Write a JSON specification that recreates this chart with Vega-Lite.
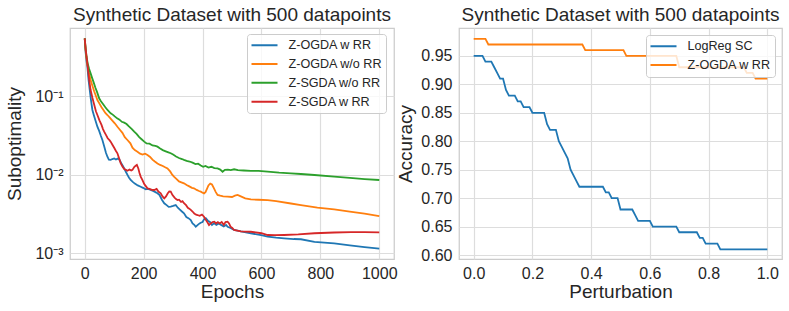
{
  "$schema": "https://vega.github.io/schema/vega-lite/v6.json",
  "background": "white",
  "padding": {"left": 5, "top": 5, "right": 8, "bottom": 5},
  "autosize": {"type": "pad"},
  "bounds": "flush",
  "spacing": 65,
  "config": {
    "font": "Liberation Sans",
    "view": {"stroke": "#cccccc", "strokeWidth": 1.25},
    "axis": {"domain": false, "ticks": false, "grid": true, "gridColor": "#dddddd", "gridWidth": 1.2,
      "labelFontSize": 16, "labelColor": "#262626", "labelFont": "Liberation Sans",
      "titleFontSize": 19, "titleFontWeight": "normal", "titleColor": "#262626", "titleFont": "Liberation Sans"},
    "title": {"fontSize": 19, "fontWeight": "normal", "color": "#262626", "font": "Liberation Sans", "offset": 3},
    "legend": {"labelFontSize": 12.6, "labelColor": "#262626", "labelFont": "Liberation Sans"}
  },
  "datasets": {
    "conv": [
      {"m":"Z-OGDA w RR","e":0,"v":0.541},{"m":"Z-OGDA w RR","e":3,"v":0.36},{"m":"Z-OGDA w RR","e":6,"v":0.28},{"m":"Z-OGDA w RR","e":9,"v":0.236},{"m":"Z-OGDA w RR","e":13,"v":0.16},{"m":"Z-OGDA w RR","e":17,"v":0.12},{"m":"Z-OGDA w RR","e":21,"v":0.09},{"m":"Z-OGDA w RR","e":26,"v":0.0664},{"m":"Z-OGDA w RR","e":31,"v":0.057},{"m":"Z-OGDA w RR","e":37,"v":0.048},{"m":"Z-OGDA w RR","e":43,"v":0.0407},{"m":"Z-OGDA w RR","e":49,"v":0.036},{"m":"Z-OGDA w RR","e":55,"v":0.031},{"m":"Z-OGDA w RR","e":60,"v":0.0276},{"m":"Z-OGDA w RR","e":66,"v":0.023},{"m":"Z-OGDA w RR","e":72,"v":0.019},{"m":"Z-OGDA w RR","e":77,"v":0.0169},{"m":"Z-OGDA w RR","e":82,"v":0.0155},{"m":"Z-OGDA w RR","e":88,"v":0.0154},{"m":"Z-OGDA w RR","e":94,"v":0.0158},{"m":"Z-OGDA w RR","e":100,"v":0.0161},{"m":"Z-OGDA w RR","e":106,"v":0.0156},{"m":"Z-OGDA w RR","e":112,"v":0.016},{"m":"Z-OGDA w RR","e":117,"v":0.0157},{"m":"Z-OGDA w RR","e":124,"v":0.014},{"m":"Z-OGDA w RR","e":130,"v":0.0128},{"m":"Z-OGDA w RR","e":134,"v":0.012},{"m":"Z-OGDA w RR","e":140,"v":0.0108},{"m":"Z-OGDA w RR","e":146,"v":0.0098},{"m":"Z-OGDA w RR","e":150,"v":0.0092},{"m":"Z-OGDA w RR","e":156,"v":0.00855},{"m":"Z-OGDA w RR","e":163,"v":0.0081},{"m":"Z-OGDA w RR","e":170,"v":0.0077},{"m":"Z-OGDA w RR","e":180,"v":0.0073},{"m":"Z-OGDA w RR","e":190,"v":0.00703},{"m":"Z-OGDA w RR","e":198,"v":0.0068},{"m":"Z-OGDA w RR","e":207,"v":0.0065},{"m":"Z-OGDA w RR","e":215,"v":0.0066},{"m":"Z-OGDA w RR","e":224,"v":0.00638},{"m":"Z-OGDA w RR","e":232,"v":0.0062},{"m":"Z-OGDA w RR","e":240,"v":0.006},{"m":"Z-OGDA w RR","e":247,"v":0.00579},{"m":"Z-OGDA w RR","e":254,"v":0.0055},{"m":"Z-OGDA w RR","e":262,"v":0.0048},{"m":"Z-OGDA w RR","e":270,"v":0.00433},{"m":"Z-OGDA w RR","e":278,"v":0.0041},{"m":"Z-OGDA w RR","e":285,"v":0.0039},{"m":"Z-OGDA w RR","e":292,"v":0.00392},{"m":"Z-OGDA w RR","e":300,"v":0.004},{"m":"Z-OGDA w RR","e":309,"v":0.00411},{"m":"Z-OGDA w RR","e":316,"v":0.0038},{"m":"Z-OGDA w RR","e":323,"v":0.0036},{"m":"Z-OGDA w RR","e":330,"v":0.0034},{"m":"Z-OGDA w RR","e":337,"v":0.00322},{"m":"Z-OGDA w RR","e":345,"v":0.0029},{"m":"Z-OGDA w RR","e":352,"v":0.0028},{"m":"Z-OGDA w RR","e":360,"v":0.00265},{"m":"Z-OGDA w RR","e":366,"v":0.0024},{"m":"Z-OGDA w RR","e":372,"v":0.0023},{"m":"Z-OGDA w RR","e":377,"v":0.00218},{"m":"Z-OGDA w RR","e":384,"v":0.0023},{"m":"Z-OGDA w RR","e":390,"v":0.0024},{"m":"Z-OGDA w RR","e":394,"v":0.00245},{"m":"Z-OGDA w RR","e":400,"v":0.0025},{"m":"Z-OGDA w RR","e":405,"v":0.0027},{"m":"Z-OGDA w RR","e":411,"v":0.00279},{"m":"Z-OGDA w RR","e":418,"v":0.0026},{"m":"Z-OGDA w RR","e":425,"v":0.0025},{"m":"Z-OGDA w RR","e":432,"v":0.0023},{"m":"Z-OGDA w RR","e":439,"v":0.00241},{"m":"Z-OGDA w RR","e":447,"v":0.0023},{"m":"Z-OGDA w RR","e":455,"v":0.0024},{"m":"Z-OGDA w RR","e":463,"v":0.0023},{"m":"Z-OGDA w RR","e":472,"v":0.0022},{"m":"Z-OGDA w RR","e":480,"v":0.0023},{"m":"Z-OGDA w RR","e":485,"v":0.00218},{"m":"Z-OGDA w RR","e":495,"v":0.0021},{"m":"Z-OGDA w RR","e":507,"v":0.00198},{"m":"Z-OGDA w RR","e":530,"v":0.0019},{"m":"Z-OGDA w RR","e":564,"v":0.0018},{"m":"Z-OGDA w RR","e":599,"v":0.0017},{"m":"Z-OGDA w RR","e":621,"v":0.00163},{"m":"Z-OGDA w RR","e":650,"v":0.00158},{"m":"Z-OGDA w RR","e":677,"v":0.00155},{"m":"Z-OGDA w RR","e":710,"v":0.00152},{"m":"Z-OGDA w RR","e":734,"v":0.00151},{"m":"Z-OGDA w RR","e":780,"v":0.0014},{"m":"Z-OGDA w RR","e":847,"v":0.00134},{"m":"Z-OGDA w RR","e":900,"v":0.00126},{"m":"Z-OGDA w RR","e":950,"v":0.0012},{"m":"Z-OGDA w RR","e":1000,"v":0.00115},

      {"m":"Z-OGDA w/o RR","e":0,"v":0.541},{"m":"Z-OGDA w/o RR","e":3,"v":0.38},{"m":"Z-OGDA w/o RR","e":6,"v":0.3},{"m":"Z-OGDA w/o RR","e":10,"v":0.24},{"m":"Z-OGDA w/o RR","e":15,"v":0.19},{"m":"Z-OGDA w/o RR","e":20,"v":0.16},{"m":"Z-OGDA w/o RR","e":26,"v":0.135},{"m":"Z-OGDA w/o RR","e":32,"v":0.115},{"m":"Z-OGDA w/o RR","e":38,"v":0.1},{"m":"Z-OGDA w/o RR","e":43,"v":0.0889},{"m":"Z-OGDA w/o RR","e":50,"v":0.08},{"m":"Z-OGDA w/o RR","e":57,"v":0.072},{"m":"Z-OGDA w/o RR","e":64,"v":0.066},{"m":"Z-OGDA w/o RR","e":70,"v":0.061},{"m":"Z-OGDA w/o RR","e":77,"v":0.0573},{"m":"Z-OGDA w/o RR","e":85,"v":0.053},{"m":"Z-OGDA w/o RR","e":93,"v":0.049},{"m":"Z-OGDA w/o RR","e":102,"v":0.045},{"m":"Z-OGDA w/o RR","e":111,"v":0.0407},{"m":"Z-OGDA w/o RR","e":120,"v":0.037},{"m":"Z-OGDA w/o RR","e":128,"v":0.034},{"m":"Z-OGDA w/o RR","e":136,"v":0.03},{"m":"Z-OGDA w/o RR","e":145,"v":0.0276},{"m":"Z-OGDA w/o RR","e":155,"v":0.025},{"m":"Z-OGDA w/o RR","e":162,"v":0.022},{"m":"Z-OGDA w/o RR","e":170,"v":0.0205},{"m":"Z-OGDA w/o RR","e":179,"v":0.0196},{"m":"Z-OGDA w/o RR","e":188,"v":0.0185},{"m":"Z-OGDA w/o RR","e":196,"v":0.018},{"m":"Z-OGDA w/o RR","e":205,"v":0.0185},{"m":"Z-OGDA w/o RR","e":213,"v":0.0178},{"m":"Z-OGDA w/o RR","e":222,"v":0.0168},{"m":"Z-OGDA w/o RR","e":230,"v":0.0155},{"m":"Z-OGDA w/o RR","e":238,"v":0.0147},{"m":"Z-OGDA w/o RR","e":247,"v":0.0139},{"m":"Z-OGDA w/o RR","e":256,"v":0.0133},{"m":"Z-OGDA w/o RR","e":265,"v":0.0129},{"m":"Z-OGDA w/o RR","e":273,"v":0.0124},{"m":"Z-OGDA w/o RR","e":281,"v":0.012},{"m":"Z-OGDA w/o RR","e":290,"v":0.011},{"m":"Z-OGDA w/o RR","e":297,"v":0.01},{"m":"Z-OGDA w/o RR","e":303,"v":0.00944},{"m":"Z-OGDA w/o RR","e":312,"v":0.0088},{"m":"Z-OGDA w/o RR","e":320,"v":0.0082},{"m":"Z-OGDA w/o RR","e":328,"v":0.008},{"m":"Z-OGDA w/o RR","e":337,"v":0.00776},{"m":"Z-OGDA w/o RR","e":346,"v":0.0074},{"m":"Z-OGDA w/o RR","e":355,"v":0.0071},{"m":"Z-OGDA w/o RR","e":364,"v":0.0068},{"m":"Z-OGDA w/o RR","e":371,"v":0.0067},{"m":"Z-OGDA w/o RR","e":380,"v":0.0064},{"m":"Z-OGDA w/o RR","e":388,"v":0.0062},{"m":"Z-OGDA w/o RR","e":394,"v":0.00608},{"m":"Z-OGDA w/o RR","e":400,"v":0.0059},{"m":"Z-OGDA w/o RR","e":405,"v":0.00579},{"m":"Z-OGDA w/o RR","e":410,"v":0.006},{"m":"Z-OGDA w/o RR","e":415,"v":0.0066},{"m":"Z-OGDA w/o RR","e":420,"v":0.0073},{"m":"Z-OGDA w/o RR","e":426,"v":0.0077},{"m":"Z-OGDA w/o RR","e":432,"v":0.0075},{"m":"Z-OGDA w/o RR","e":438,"v":0.0068},{"m":"Z-OGDA w/o RR","e":445,"v":0.006},{"m":"Z-OGDA w/o RR","e":451,"v":0.00552},{"m":"Z-OGDA w/o RR","e":460,"v":0.0054},{"m":"Z-OGDA w/o RR","e":470,"v":0.0053},{"m":"Z-OGDA w/o RR","e":485,"v":0.00525},{"m":"Z-OGDA w/o RR","e":500,"v":0.0052},{"m":"Z-OGDA w/o RR","e":510,"v":0.0054},{"m":"Z-OGDA w/o RR","e":519,"v":0.00552},{"m":"Z-OGDA w/o RR","e":530,"v":0.0053},{"m":"Z-OGDA w/o RR","e":545,"v":0.005},{"m":"Z-OGDA w/o RR","e":564,"v":0.00485},{"m":"Z-OGDA w/o RR","e":590,"v":0.0048},{"m":"Z-OGDA w/o RR","e":621,"v":0.00476},{"m":"Z-OGDA w/o RR","e":650,"v":0.0046},{"m":"Z-OGDA w/o RR","e":700,"v":0.0043},{"m":"Z-OGDA w/o RR","e":734,"v":0.00411},{"m":"Z-OGDA w/o RR","e":790,"v":0.0038},{"m":"Z-OGDA w/o RR","e":847,"v":0.00362},{"m":"Z-OGDA w/o RR","e":900,"v":0.0034},{"m":"Z-OGDA w/o RR","e":950,"v":0.0032},{"m":"Z-OGDA w/o RR","e":1000,"v":0.00298},

      {"m":"Z-SGDA w/o RR","e":0,"v":0.541},{"m":"Z-SGDA w/o RR","e":3,"v":0.4},{"m":"Z-SGDA w/o RR","e":6,"v":0.32},{"m":"Z-SGDA w/o RR","e":10,"v":0.26},{"m":"Z-SGDA w/o RR","e":15,"v":0.22},{"m":"Z-SGDA w/o RR","e":20,"v":0.194},{"m":"Z-SGDA w/o RR","e":25,"v":0.17},{"m":"Z-SGDA w/o RR","e":30,"v":0.15},{"m":"Z-SGDA w/o RR","e":36,"v":0.128},{"m":"Z-SGDA w/o RR","e":42,"v":0.112},{"m":"Z-SGDA w/o RR","e":49,"v":0.0934},{"m":"Z-SGDA w/o RR","e":55,"v":0.086},{"m":"Z-SGDA w/o RR","e":62,"v":0.079},{"m":"Z-SGDA w/o RR","e":70,"v":0.072},{"m":"Z-SGDA w/o RR","e":78,"v":0.066},{"m":"Z-SGDA w/o RR","e":88,"v":0.0603},{"m":"Z-SGDA w/o RR","e":95,"v":0.058},{"m":"Z-SGDA w/o RR","e":102,"v":0.055},{"m":"Z-SGDA w/o RR","e":110,"v":0.052},{"m":"Z-SGDA w/o RR","e":118,"v":0.05},{"m":"Z-SGDA w/o RR","e":126,"v":0.047},{"m":"Z-SGDA w/o RR","e":134,"v":0.0458},{"m":"Z-SGDA w/o RR","e":142,"v":0.044},{"m":"Z-SGDA w/o RR","e":150,"v":0.041},{"m":"Z-SGDA w/o RR","e":160,"v":0.038},{"m":"Z-SGDA w/o RR","e":168,"v":0.0352},{"m":"Z-SGDA w/o RR","e":176,"v":0.033},{"m":"Z-SGDA w/o RR","e":185,"v":0.03},{"m":"Z-SGDA w/o RR","e":194,"v":0.028},{"m":"Z-SGDA w/o RR","e":202,"v":0.0263},{"m":"Z-SGDA w/o RR","e":210,"v":0.025},{"m":"Z-SGDA w/o RR","e":220,"v":0.0248},{"m":"Z-SGDA w/o RR","e":230,"v":0.0235},{"m":"Z-SGDA w/o RR","e":240,"v":0.0232},{"m":"Z-SGDA w/o RR","e":247,"v":0.0227},{"m":"Z-SGDA w/o RR","e":256,"v":0.0215},{"m":"Z-SGDA w/o RR","e":265,"v":0.0205},{"m":"Z-SGDA w/o RR","e":275,"v":0.0198},{"m":"Z-SGDA w/o RR","e":284,"v":0.0192},{"m":"Z-SGDA w/o RR","e":292,"v":0.0187},{"m":"Z-SGDA w/o RR","e":300,"v":0.018},{"m":"Z-SGDA w/o RR","e":310,"v":0.017},{"m":"Z-SGDA w/o RR","e":320,"v":0.0163},{"m":"Z-SGDA w/o RR","e":330,"v":0.0158},{"m":"Z-SGDA w/o RR","e":337,"v":0.0154},{"m":"Z-SGDA w/o RR","e":346,"v":0.015},{"m":"Z-SGDA w/o RR","e":356,"v":0.0147},{"m":"Z-SGDA w/o RR","e":366,"v":0.0142},{"m":"Z-SGDA w/o RR","e":376,"v":0.0136},{"m":"Z-SGDA w/o RR","e":385,"v":0.0138},{"m":"Z-SGDA w/o RR","e":394,"v":0.0131},{"m":"Z-SGDA w/o RR","e":402,"v":0.0126},{"m":"Z-SGDA w/o RR","e":410,"v":0.0129},{"m":"Z-SGDA w/o RR","e":420,"v":0.0123},{"m":"Z-SGDA w/o RR","e":430,"v":0.0126},{"m":"Z-SGDA w/o RR","e":440,"v":0.0121},{"m":"Z-SGDA w/o RR","e":451,"v":0.012},{"m":"Z-SGDA w/o RR","e":460,"v":0.0116},{"m":"Z-SGDA w/o RR","e":468,"v":0.0109},{"m":"Z-SGDA w/o RR","e":476,"v":0.0115},{"m":"Z-SGDA w/o RR","e":486,"v":0.0116},{"m":"Z-SGDA w/o RR","e":496,"v":0.0114},{"m":"Z-SGDA w/o RR","e":507,"v":0.0117},{"m":"Z-SGDA w/o RR","e":520,"v":0.0114},{"m":"Z-SGDA w/o RR","e":540,"v":0.0113},{"m":"Z-SGDA w/o RR","e":564,"v":0.0112},{"m":"Z-SGDA w/o RR","e":590,"v":0.0112},{"m":"Z-SGDA w/o RR","e":621,"v":0.0109},{"m":"Z-SGDA w/o RR","e":660,"v":0.0106},{"m":"Z-SGDA w/o RR","e":700,"v":0.0104},{"m":"Z-SGDA w/o RR","e":734,"v":0.0102},{"m":"Z-SGDA w/o RR","e":780,"v":0.0099},{"m":"Z-SGDA w/o RR","e":847,"v":0.00944},{"m":"Z-SGDA w/o RR","e":900,"v":0.0091},{"m":"Z-SGDA w/o RR","e":950,"v":0.0088},{"m":"Z-SGDA w/o RR","e":1000,"v":0.00855},

      {"m":"Z-SGDA w RR","e":0,"v":0.541},{"m":"Z-SGDA w RR","e":3,"v":0.4},{"m":"Z-SGDA w RR","e":6,"v":0.32},{"m":"Z-SGDA w RR","e":10,"v":0.24},{"m":"Z-SGDA w RR","e":15,"v":0.16},{"m":"Z-SGDA w RR","e":20,"v":0.119},{"m":"Z-SGDA w RR","e":26,"v":0.095},{"m":"Z-SGDA w RR","e":32,"v":0.078},{"m":"Z-SGDA w RR","e":38,"v":0.064},{"m":"Z-SGDA w RR","e":43,"v":0.0573},{"m":"Z-SGDA w RR","e":50,"v":0.049},{"m":"Z-SGDA w RR","e":57,"v":0.043},{"m":"Z-SGDA w RR","e":62,"v":0.038},{"m":"Z-SGDA w RR","e":66,"v":0.0352},{"m":"Z-SGDA w RR","e":72,"v":0.032},{"m":"Z-SGDA w RR","e":78,"v":0.029},{"m":"Z-SGDA w RR","e":84,"v":0.0275},{"m":"Z-SGDA w RR","e":88,"v":0.0263},{"m":"Z-SGDA w RR","e":94,"v":0.024},{"m":"Z-SGDA w RR","e":100,"v":0.022},{"m":"Z-SGDA w RR","e":106,"v":0.02},{"m":"Z-SGDA w RR","e":111,"v":0.0187},{"m":"Z-SGDA w RR","e":117,"v":0.016},{"m":"Z-SGDA w RR","e":122,"v":0.014},{"m":"Z-SGDA w RR","e":128,"v":0.0127},{"m":"Z-SGDA w RR","e":134,"v":0.0118},{"m":"Z-SGDA w RR","e":140,"v":0.0115},{"m":"Z-SGDA w RR","e":145,"v":0.0112},{"m":"Z-SGDA w RR","e":152,"v":0.0116},{"m":"Z-SGDA w RR","e":158,"v":0.0113},{"m":"Z-SGDA w RR","e":162,"v":0.0115},{"m":"Z-SGDA w RR","e":168,"v":0.0125},{"m":"Z-SGDA w RR","e":173,"v":0.013},{"m":"Z-SGDA w RR","e":177,"v":0.0133},{"m":"Z-SGDA w RR","e":182,"v":0.012},{"m":"Z-SGDA w RR","e":186,"v":0.0105},{"m":"Z-SGDA w RR","e":190,"v":0.00944},{"m":"Z-SGDA w RR","e":196,"v":0.0085},{"m":"Z-SGDA w RR","e":202,"v":0.0076},{"m":"Z-SGDA w RR","e":208,"v":0.0071},{"m":"Z-SGDA w RR","e":213,"v":0.0067},{"m":"Z-SGDA w RR","e":220,"v":0.0066},{"m":"Z-SGDA w RR","e":228,"v":0.0064},{"m":"Z-SGDA w RR","e":236,"v":0.00638},{"m":"Z-SGDA w RR","e":244,"v":0.0066},{"m":"Z-SGDA w RR","e":250,"v":0.0061},{"m":"Z-SGDA w RR","e":258,"v":0.00579},{"m":"Z-SGDA w RR","e":264,"v":0.0053},{"m":"Z-SGDA w RR","e":270,"v":0.005},{"m":"Z-SGDA w RR","e":276,"v":0.0053},{"m":"Z-SGDA w RR","e":282,"v":0.0058},{"m":"Z-SGDA w RR","e":287,"v":0.0061},{"m":"Z-SGDA w RR","e":292,"v":0.00608},{"m":"Z-SGDA w RR","e":298,"v":0.0055},{"m":"Z-SGDA w RR","e":305,"v":0.0051},{"m":"Z-SGDA w RR","e":310,"v":0.0049},{"m":"Z-SGDA w RR","e":315,"v":0.00476},{"m":"Z-SGDA w RR","e":320,"v":0.0048},{"m":"Z-SGDA w RR","e":327,"v":0.0045},{"m":"Z-SGDA w RR","e":332,"v":0.0046},{"m":"Z-SGDA w RR","e":337,"v":0.00433},{"m":"Z-SGDA w RR","e":344,"v":0.0041},{"m":"Z-SGDA w RR","e":350,"v":0.0038},{"m":"Z-SGDA w RR","e":355,"v":0.0037},{"m":"Z-SGDA w RR","e":360,"v":0.00356},{"m":"Z-SGDA w RR","e":366,"v":0.0034},{"m":"Z-SGDA w RR","e":372,"v":0.0032},{"m":"Z-SGDA w RR","e":378,"v":0.0031},{"m":"Z-SGDA w RR","e":383,"v":0.00307},{"m":"Z-SGDA w RR","e":390,"v":0.003},{"m":"Z-SGDA w RR","e":398,"v":0.0031},{"m":"Z-SGDA w RR","e":405,"v":0.00292},{"m":"Z-SGDA w RR","e":410,"v":0.0027},{"m":"Z-SGDA w RR","e":416,"v":0.0025},{"m":"Z-SGDA w RR","e":422,"v":0.00229},{"m":"Z-SGDA w RR","e":428,"v":0.0024},{"m":"Z-SGDA w RR","e":434,"v":0.0025},{"m":"Z-SGDA w RR","e":440,"v":0.00253},{"m":"Z-SGDA w RR","e":446,"v":0.0024},{"m":"Z-SGDA w RR","e":452,"v":0.0025},{"m":"Z-SGDA w RR","e":458,"v":0.0024},{"m":"Z-SGDA w RR","e":465,"v":0.0025},{"m":"Z-SGDA w RR","e":472,"v":0.0023},{"m":"Z-SGDA w RR","e":478,"v":0.0025},{"m":"Z-SGDA w RR","e":485,"v":0.00253},{"m":"Z-SGDA w RR","e":490,"v":0.0024},{"m":"Z-SGDA w RR","e":495,"v":0.00218},{"m":"Z-SGDA w RR","e":501,"v":0.0021},{"m":"Z-SGDA w RR","e":507,"v":0.00198},{"m":"Z-SGDA w RR","e":530,"v":0.0019},{"m":"Z-SGDA w RR","e":564,"v":0.00188},{"m":"Z-SGDA w RR","e":600,"v":0.0018},{"m":"Z-SGDA w RR","e":621,"v":0.00171},{"m":"Z-SGDA w RR","e":646,"v":0.0017},{"m":"Z-SGDA w RR","e":677,"v":0.00171},{"m":"Z-SGDA w RR","e":725,"v":0.00174},{"m":"Z-SGDA w RR","e":780,"v":0.0018},{"m":"Z-SGDA w RR","e":847,"v":0.00184},{"m":"Z-SGDA w RR","e":905,"v":0.00186},{"m":"Z-SGDA w RR","e":950,"v":0.00186},{"m":"Z-SGDA w RR","e":1000,"v":0.00185}
    ],
    "acc": [
      {"m":"LogReg SC","p":0.00,"a":0.95},{"m":"LogReg SC","p":0.03,"a":0.95},{"m":"LogReg SC","p":0.04,"a":0.94},{"m":"LogReg SC","p":0.06,"a":0.94},{"m":"LogReg SC","p":0.07,"a":0.93},{"m":"LogReg SC","p":0.08,"a":0.92},{"m":"LogReg SC","p":0.09,"a":0.91},{"m":"LogReg SC","p":0.10,"a":0.91},{"m":"LogReg SC","p":0.11,"a":0.89},{"m":"LogReg SC","p":0.12,"a":0.88},{"m":"LogReg SC","p":0.14,"a":0.88},{"m":"LogReg SC","p":0.15,"a":0.87},{"m":"LogReg SC","p":0.16,"a":0.87},{"m":"LogReg SC","p":0.17,"a":0.86},{"m":"LogReg SC","p":0.19,"a":0.86},{"m":"LogReg SC","p":0.20,"a":0.85},{"m":"LogReg SC","p":0.24,"a":0.85},{"m":"LogReg SC","p":0.25,"a":0.83},{"m":"LogReg SC","p":0.26,"a":0.82},{"m":"LogReg SC","p":0.28,"a":0.82},{"m":"LogReg SC","p":0.29,"a":0.80},{"m":"LogReg SC","p":0.30,"a":0.79},{"m":"LogReg SC","p":0.31,"a":0.78},{"m":"LogReg SC","p":0.32,"a":0.77},{"m":"LogReg SC","p":0.33,"a":0.75},{"m":"LogReg SC","p":0.34,"a":0.74},{"m":"LogReg SC","p":0.35,"a":0.73},{"m":"LogReg SC","p":0.36,"a":0.72},{"m":"LogReg SC","p":0.44,"a":0.72},{"m":"LogReg SC","p":0.45,"a":0.71},{"m":"LogReg SC","p":0.46,"a":0.71},{"m":"LogReg SC","p":0.47,"a":0.70},{"m":"LogReg SC","p":0.49,"a":0.70},{"m":"LogReg SC","p":0.50,"a":0.68},{"m":"LogReg SC","p":0.54,"a":0.68},{"m":"LogReg SC","p":0.55,"a":0.67},{"m":"LogReg SC","p":0.56,"a":0.66},{"m":"LogReg SC","p":0.60,"a":0.66},{"m":"LogReg SC","p":0.61,"a":0.65},{"m":"LogReg SC","p":0.69,"a":0.65},{"m":"LogReg SC","p":0.70,"a":0.64},{"m":"LogReg SC","p":0.76,"a":0.64},{"m":"LogReg SC","p":0.77,"a":0.63},{"m":"LogReg SC","p":0.78,"a":0.63},{"m":"LogReg SC","p":0.79,"a":0.62},{"m":"LogReg SC","p":0.83,"a":0.62},{"m":"LogReg SC","p":0.84,"a":0.61},{"m":"LogReg SC","p":1.00,"a":0.61},
      {"m":"Z-OGDA w RR","p":0.00,"a":0.98},{"m":"Z-OGDA w RR","p":0.04,"a":0.98},{"m":"Z-OGDA w RR","p":0.05,"a":0.97},{"m":"Z-OGDA w RR","p":0.37,"a":0.97},{"m":"Z-OGDA w RR","p":0.38,"a":0.96},{"m":"Z-OGDA w RR","p":0.51,"a":0.96},{"m":"Z-OGDA w RR","p":0.52,"a":0.95},{"m":"Z-OGDA w RR","p":0.69,"a":0.95},{"m":"Z-OGDA w RR","p":0.70,"a":0.93},{"m":"Z-OGDA w RR","p":0.92,"a":0.93},{"m":"Z-OGDA w RR","p":0.93,"a":0.92},{"m":"Z-OGDA w RR","p":0.95,"a":0.92},{"m":"Z-OGDA w RR","p":0.96,"a":0.91},{"m":"Z-OGDA w RR","p":1.00,"a":0.91}
    ]
  },
  "hconcat": [
    {
      "width": 324, "height": 231,
      "title": "Synthetic Dataset with 500 datapoints",
      "data": {"name": "conv"},
      "mark": {"type": "line", "strokeWidth": 1.8, "clip": true},
      "encoding": {
        "x": {"field": "e", "type": "quantitative", "scale": {"domain": [-50, 1050], "nice": false, "zero": false},
          "axis": {"title": "Epochs", "values": [0, 200, 400, 600, 800, 1000], "format": "d", "labelPadding": 6, "titlePadding": 1}},
        "y": {"field": "v", "type": "quantitative", "scale": {"type": "log", "domain": [0.000847, 0.732], "nice": false},
          "axis": {"title": "Suboptimality", "values": [0.001, 0.01, 0.1], "labelExpr": "datum.value < 0.005 ? '10⁻³' : (datum.value < 0.05 ? '10⁻²' : '10⁻¹')", "labelPadding": 7, "titlePadding": 10}},
        "color": {"field": "m", "type": "nominal",
          "scale": {"domain": ["Z-OGDA w RR", "Z-OGDA w/o RR", "Z-SGDA w/o RR", "Z-SGDA w RR"], "range": ["#1f77b4", "#ff7f0e", "#2ca02c", "#d62728"]},
          "legend": {"title": null, "orient": "none", "legendX": 177, "legendY": 6, "symbolType": "stroke", "symbolSize": 676, "symbolStrokeWidth": 2, "labelOffset": 10, "fillColor": "rgba(255,255,255,0.8)", "strokeColor": "#cccccc", "cornerRadius": 3, "padding": 3.5, "clipHeight": 15.5, "rowPadding": 2.8}}
      }
    },
    {
      "width": 323, "height": 231,
      "title": "Synthetic Dataset with 500 datapoints",
      "data": {"name": "acc"},
      "mark": {"type": "line", "strokeWidth": 1.8, "clip": true},
      "encoding": {
        "x": {"field": "p", "type": "quantitative", "scale": {"domain": [-0.05, 1.05], "nice": false, "zero": false},
          "axis": {"title": "Perturbation", "values": [0, 0.2, 0.4, 0.6, 0.8, 1.0], "format": ".1f", "labelPadding": 6, "titlePadding": 1}},
        "y": {"field": "a", "type": "quantitative", "scale": {"domain": [0.593, 0.999], "nice": false, "zero": false},
          "axis": {"title": "Accuracy", "values": [0.6, 0.65, 0.7, 0.75, 0.8, 0.85, 0.9, 0.95], "format": ".2f", "labelPadding": 7, "titlePadding": 5}},
        "color": {"field": "m", "type": "nominal",
          "scale": {"domain": ["LogReg SC", "Z-OGDA w RR"], "range": ["#1f77b4", "#ff7f0e"]},
          "legend": {"title": null, "orient": "none", "legendX": 187, "legendY": 7, "symbolType": "stroke", "symbolSize": 676, "symbolStrokeWidth": 2, "labelOffset": 10, "fillColor": "rgba(255,255,255,0.8)", "strokeColor": "#cccccc", "cornerRadius": 3, "padding": 3.5, "clipHeight": 15.5, "rowPadding": 2.8}}
      }
    }
  ],
  "resolve": {"scale": {"color": "independent"}, "legend": {"color": "independent"}}
}
